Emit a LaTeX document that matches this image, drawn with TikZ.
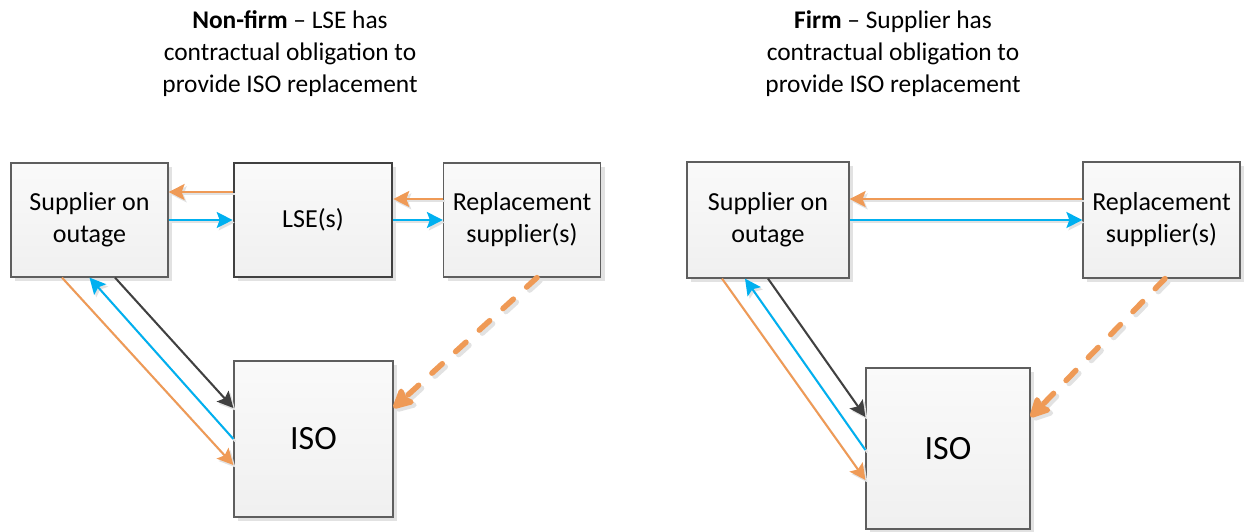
\documentclass[tikz,border=0pt]{standalone}
\usepackage{fontspec}
\setmainfont{Carlito}
\usetikzlibrary{arrows.meta,shadows,calc}
\definecolor{orng}{HTML}{EF9A56}
\definecolor{blu}{HTML}{00B0F0}
\definecolor{drk}{HTML}{404040}
\definecolor{bord}{HTML}{5E5E5E}
\definecolor{shd}{HTML}{E2E2E2}
\tikzset{
  box/.style={draw=bord, line width=0.6pt, top color=white!98!black, bottom color=white!94!black,
    inner sep=0pt, align=center, font=\fontsize{13}{16}\selectfont,
    drop shadow={shadow xshift=2pt, shadow yshift=-2pt, fill=shd, opacity=1}},
  ttl/.style={align=center, font=\fontsize{12.7}{16}\selectfont},
  lshadow/.style={preaction={draw=shd, line width=1pt, transform canvas={shift={(1pt,-1.2pt)}}}},
  arr/.style={line width=1pt, lshadow, -{Stealth[length=8pt,width=8pt,inset=1.5pt]}},
  oarr/.style={arr, draw=orng},
  barr/.style={arr, draw=blu},
  darr/.style={arr, draw=drk},
  dasharr/.style={line width=2.75pt, draw=orng, line cap=round, dash pattern=on 7pt off 9pt,
    preaction={draw=shd, line width=2.75pt, line cap=round, dash pattern=on 7pt off 9pt,
      transform canvas={shift={(1.5pt,-1.5pt)}}},
    -{Stealth[length=12pt,width=12pt,inset=2pt,round]}},
}
\begin{document}
\begin{tikzpicture}[x=0.5pt,y=-0.5pt]
\useasboundingbox (0,0) rectangle (1244,531);
% titles
\node[ttl] (t1) at (290,54) {\textbf{Non-firm} – LSE has\\contractual obligation to\\provide ISO replacement};
\node[ttl] (t2) at (893,54) {\textbf{Firm} – Supplier has\\contractual obligation to\\provide ISO replacement};
% left diagram
\node[box, minimum width=78.5pt, minimum height=57pt] (sup1) at (89.5,220) {Supplier on\\outage};
\node[box, draw=drk, line width=1.3pt, minimum width=79pt, minimum height=57pt] (lse) at (313,220) {LSE(s)};
\node[box, minimum width=78.5pt, minimum height=57pt] (rep1) at (522,220) {Replacement\\supplier(s)};
\node[box, minimum width=79.5pt, minimum height=78pt, font=\fontsize{17}{20}\selectfont] (iso1) at (313.5,439) {ISO};
\draw[oarr] ([yshift=14pt]lse.west) -- ([yshift=14pt]sup1.east);
\draw[barr] (sup1.east) -- (lse.west);
\draw[oarr] ([yshift=10.5pt]rep1.west) -- ([yshift=10.5pt]lse.east);
\draw[barr] (lse.east) -- (rep1.west);
\draw[oarr] ([xshift=-13.75pt]sup1.south) -- ([yshift=-13pt]iso1.west);
\draw[barr] (iso1.west) -- (sup1.south);
\draw[darr] ([xshift=12.75pt]sup1.south) -- ([yshift=15.5pt]iso1.west);
\draw[dasharr] ([xshift=7.5pt]rep1.south) -- ([yshift=15.5pt]iso1.east);
% right diagram
\node[box, minimum width=81pt, minimum height=58pt] (sup2) at (768,220) {Supplier on\\outage};
\node[box, minimum width=78.5pt, minimum height=58pt] (rep2) at (1161.5,220) {Replacement\\supplier(s)};
\node[box, minimum width=82pt, minimum height=80.5pt, font=\fontsize{17}{20}\selectfont] (iso2) at (948,448.5) {ISO};
\draw[oarr] ([yshift=10.5pt]rep2.west) -- ([yshift=10.5pt]sup2.east);
\draw[barr] (sup2.east) -- (rep2.west);
\draw[oarr] ([xshift=-23pt]sup2.south) -- ([yshift=-15.75pt]iso2.west);
\draw[barr] ([yshift=-0.75pt]iso2.west) -- ([xshift=-11.5pt]sup2.south);
\draw[darr] (sup2.south) -- ([yshift=15.75pt]iso2.west);
\draw[dasharr] ([xshift=1.75pt]rep2.south) -- ([yshift=15.75pt]iso2.east);
\end{tikzpicture}
\end{document}
